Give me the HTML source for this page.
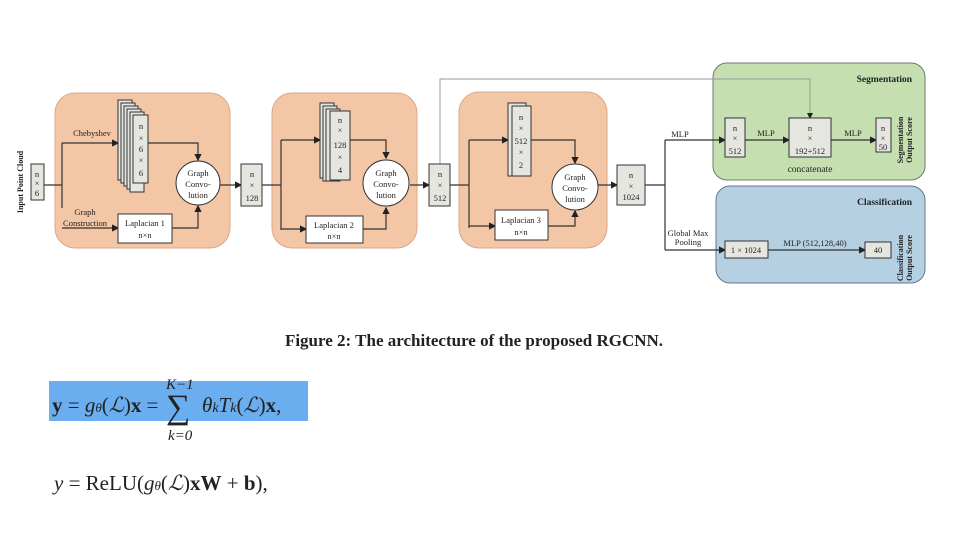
<!DOCTYPE html>
<html><head><meta charset="utf-8"><style>
html,body{margin:0;padding:0;background:#fff;}
svg{display:block}
.t{font-family:"Liberation Serif",serif;fill:#222}
</style></head><body>
<svg width="960" height="540" viewBox="0 0 960 540" xmlns="http://www.w3.org/2000/svg">
<defs><marker id="a" markerWidth="6" markerHeight="6" refX="5" refY="3" orient="auto"><path d="M0,0 L6,3 L0,6 z" fill="#222"/></marker></defs>
<rect x="55" y="93" width="175" height="155" rx="20" fill="#f3c6a5" stroke="#d9a98a"/>
<rect x="272" y="93" width="145" height="155" rx="20" fill="#f3c6a5" stroke="#d9a98a"/>
<rect x="459" y="92" width="148" height="156" rx="20" fill="#f3c6a5" stroke="#d9a98a"/>
<rect x="713" y="63" width="212" height="117" rx="14" fill="#c5dfb0" stroke="#6b7f6a"/>
<rect x="716" y="186" width="209" height="97" rx="14" fill="#b5cfe3" stroke="#66788a"/>
<g class="t" font-size="9.5" font-weight="bold"><text x="912" y="82" text-anchor="end">Segmentation</text><text x="912" y="205" text-anchor="end">Classification</text></g>
<g fill="none" stroke="#333" stroke-width="1.2">
<path d="M44,185 H62 M62,143 V208"/>
<path d="M62,143 H118" marker-end="url(#a)"/>
<path d="M62,228 H118" marker-end="url(#a)"/>
<path d="M148,143 H198 V160" marker-end="url(#a)"/>
<path d="M172,228 H198 V206" marker-end="url(#a)"/>
<path d="M220,185 H241" marker-end="url(#a)"/>
<path d="M262,185 H281 M281,140 V230"/>
<path d="M281,140 H320" marker-end="url(#a)"/>
<path d="M281,229 H306" marker-end="url(#a)"/>
<path d="M350,140 H386 V158" marker-end="url(#a)"/>
<path d="M363,229 H386 V208" marker-end="url(#a)"/>
<path d="M410,185 H429" marker-end="url(#a)"/>
<path d="M450,185 H469 M469,140 V228"/>
<path d="M469,140 H508" marker-end="url(#a)"/>
<path d="M469,226 H495" marker-end="url(#a)"/>
<path d="M531,140 H575 V163" marker-end="url(#a)"/>
<path d="M548,226 H575 V211" marker-end="url(#a)"/>
<path d="M598,185 H617" marker-end="url(#a)"/>
<path d="M645,185 H665 M665,140 V250"/>
<path d="M665,140 H725" marker-end="url(#a)"/>
<path d="M665,250 H725" marker-end="url(#a)"/>
<path d="M745,140 H789" marker-end="url(#a)"/>
<path d="M831,140 H876" marker-end="url(#a)"/>
<path d="M768,250 H865" marker-end="url(#a)"/>
</g>
<path d="M440,164 V79 H810 V118" fill="none" stroke="#999" stroke-width="1" marker-end="url(#a)"/>
<g fill="#e6e6e0" stroke="#333" stroke-width="1">
<rect x="31" y="164" width="13" height="36"/>
<rect x="241" y="164" width="21" height="42"/>
<rect x="429" y="164" width="21" height="42"/>
<rect x="617" y="165" width="28" height="40"/>
<rect x="118" y="100" width="14" height="80"/><rect x="121" y="103" width="14" height="80"/><rect x="124" y="106" width="14" height="80"/><rect x="127" y="109" width="14" height="80"/><rect x="130" y="112" width="14" height="80"/><rect x="133" y="115" width="15" height="68"/>
<rect x="320" y="103" width="14" height="75"/><rect x="323" y="106" width="14" height="75"/><rect x="326" y="109" width="14" height="72"/><rect x="330" y="111" width="20" height="69"/>
<rect x="508" y="103" width="18" height="73"/><rect x="512" y="106" width="19" height="70"/>
<rect x="725" y="118" width="20" height="39"/>
<rect x="789" y="118" width="42" height="39"/>
<rect x="876" y="118" width="15" height="34"/>
<rect x="725" y="241" width="43" height="17"/>
<rect x="865" y="242" width="26" height="16"/>
</g>
<g fill="#fff" stroke="#333" stroke-width="1">
<rect x="118" y="214" width="54" height="29"/>
<rect x="306" y="216" width="57" height="27"/>
<rect x="495" y="210" width="53" height="30"/>
<circle cx="198" cy="183" r="22"/>
<circle cx="386" cy="183" r="23"/>
<circle cx="575" cy="187" r="23"/>
</g>
<g class="t" font-size="8.5" text-anchor="middle">
<text x="37" y="177">n</text><text x="37" y="186">×</text><text x="37" y="196">6</text>
<text x="252" y="177">n</text><text x="252" y="188">×</text><text x="252" y="201">128</text>
<text x="440" y="177">n</text><text x="440" y="188">×</text><text x="440" y="201">512</text>
<text x="631" y="178">n</text><text x="631" y="189">×</text><text x="631" y="200">1024</text>
<text x="141" y="129">n</text><text x="141" y="141">×</text><text x="141" y="152">6</text><text x="141" y="163">×</text><text x="141" y="176">6</text>
<text x="340" y="123">n</text><text x="340" y="133">×</text><text x="340" y="148">128</text><text x="340" y="160">×</text><text x="340" y="173">4</text>
<text x="521" y="120">n</text><text x="521" y="131">×</text><text x="521" y="144">512</text><text x="521" y="155">×</text><text x="521" y="168">2</text>
<text x="198" y="176">Graph</text><text x="198" y="187">Convo-</text><text x="198" y="198">lution</text>
<text x="386" y="176">Graph</text><text x="386" y="187">Convo-</text><text x="386" y="198">lution</text>
<text x="575" y="180">Graph</text><text x="575" y="191">Convo-</text><text x="575" y="202">lution</text>
<text x="145" y="226">Laplacian 1</text><text x="145" y="238">n×n</text>
<text x="334" y="228">Laplacian 2</text><text x="334" y="239">n×n</text>
<text x="521" y="223">Laplacian 3</text><text x="521" y="235">n×n</text>
<text x="735" y="131">n</text><text x="735" y="141">×</text><text x="735" y="154">512</text>
<text x="810" y="131">n</text><text x="810" y="141">×</text><text x="810" y="154">192+512</text>
<text x="883" y="131">n</text><text x="883" y="141">×</text><text x="883" y="150">50</text>
<text x="810" y="172" font-size="9.5">concatenate</text>
<text x="746" y="253">1 × 1024</text><text x="878" y="253">40</text>
<text x="92" y="136">Chebyshev</text>
<text x="85" y="215">Graph</text><text x="85" y="226">Construction</text>
<text x="680" y="137">MLP</text><text x="766" y="136">MLP</text><text x="853" y="136">MLP</text>
<text x="688" y="236">Global Max</text><text x="688" y="245">Pooling</text>
<text x="815" y="246">MLP (512,128,40)</text>
</g>
<g class="t" font-size="8" font-weight="bold" text-anchor="middle">
<text transform="translate(23,182) rotate(-90)">Input Point Cloud</text>
<text transform="translate(903,140) rotate(-90)">Segmentation</text>
<text transform="translate(912,140) rotate(-90)">Output Score</text>
<text transform="translate(903,258) rotate(-90)">Classification</text>
<text transform="translate(912,258) rotate(-90)">Output Score</text>
</g>
<text class="t" x="474" y="346" font-size="17" font-weight="bold" text-anchor="middle">Figure 2: The architecture of the proposed RGCNN.</text>
<rect x="49" y="381" width="259" height="40" fill="#6aaef0"/>
<g class="t" font-size="21" fill="#111">
<text x="52" y="412"><tspan font-weight="bold">y</tspan> = <tspan font-style="italic">g</tspan><tspan font-size="13" font-style="italic">θ</tspan>(<tspan font-style="italic">ℒ</tspan>)<tspan font-weight="bold">x</tspan> =</text>
<text x="166" y="418" font-size="34">∑</text>
<text x="166" y="389" font-size="15" font-style="italic">K−1</text>
<text x="168" y="440" font-size="15" font-style="italic">k=0</text>
<text x="202" y="412"><tspan font-style="italic">θ</tspan><tspan font-size="14" font-style="italic">k</tspan><tspan font-style="italic">T</tspan><tspan font-size="14" font-style="italic">k</tspan>(<tspan font-style="italic">ℒ</tspan>)<tspan font-weight="bold">x</tspan>,</text>
<text x="54" y="490"><tspan font-style="italic">y</tspan> = ReLU(<tspan font-style="italic">g</tspan><tspan font-size="13" font-style="italic">θ</tspan>(<tspan font-style="italic">ℒ</tspan>)<tspan font-weight="bold">xW</tspan> + <tspan font-weight="bold">b</tspan>),</text>
</g>
</svg>
</body></html>
